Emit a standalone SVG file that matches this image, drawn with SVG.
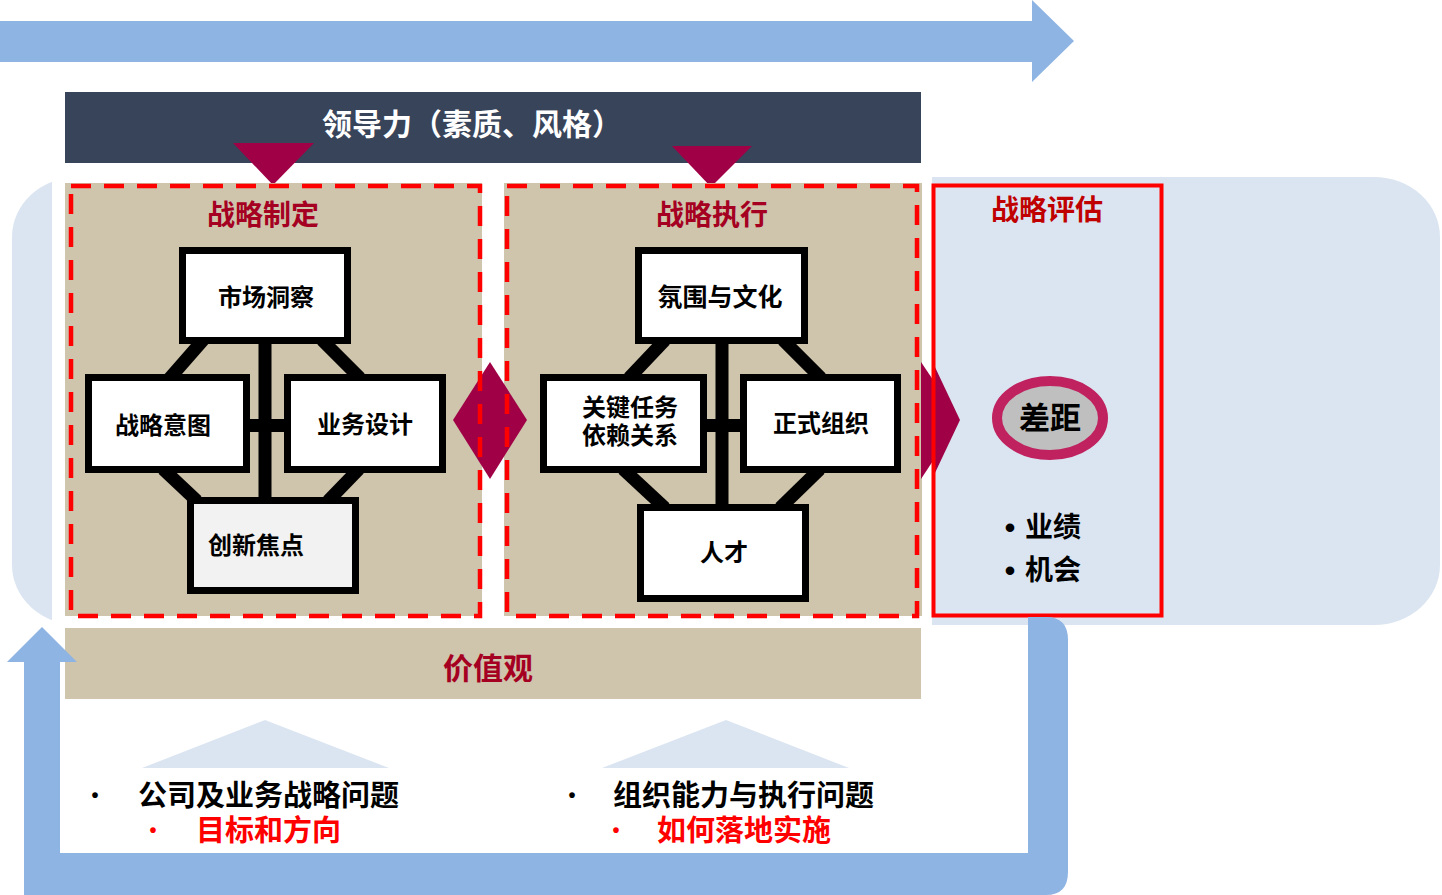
<svg xmlns="http://www.w3.org/2000/svg" width="1442" height="895" viewBox="0 0 1442 895">
<style>
.t{font-family:"Noto Sans CJK SC","Liberation Sans",sans-serif;font-weight:bold;dominant-baseline:central;text-anchor:middle}
.s{text-anchor:start}
.b{font-family:"Liberation Sans",sans-serif;font-weight:bold;dominant-baseline:central;text-anchor:middle}
.box{fill:#FFFFFF;stroke:#000000;stroke-width:7}
.con{stroke:#000000;stroke-width:13;fill:none}
.dash{fill:none;stroke:#FF0000;stroke-width:4.5;stroke-dasharray:20 13}
.beige{fill:#CFC4AC}
.lb{fill:#DBE5F1}
.blue{fill:#8EB4E3}
.mag{fill:#A00046}
</style>
<rect width="1442" height="895" fill="#FFFFFF"/>
<!-- background regions -->
<rect class="lb" x="12" y="177" width="1428" height="448" rx="66" ry="60"/>
<rect x="52" y="160" width="880" height="468" fill="#FFFFFF"/>
<!-- top arrow -->
<polygon class="blue" points="0,21 1032,21 1032,0 1074,41 1032,82 1032,62 0,62"/>
<!-- header -->
<g id="header">
<rect x="65" y="92" width="856" height="71" fill="#38445A"/>
<text class="t" x="472" y="122" font-size="30" fill="#FFFFFF">领导力（素质、风格）</text>
</g>
<polygon class="mag" points="233,143 314,143 273,185"/>
<polygon class="mag" points="672,146 752,146 711,187"/>
<!-- panels -->
<rect class="beige" x="65" y="183" width="417" height="433"/>
<rect class="beige" x="504" y="183" width="418" height="433"/>
<polygon class="mag" points="453,420 490,362 527,420 490,479"/>
<polygon class="mag" points="921,362 960,420 921,479"/>
<g id="panel-strategy-eval">
<rect class="lb" x="934" y="186" width="227" height="429"/>
<polygon class="mag" points="934,365 960,420 934,475"/>
<rect x="933.5" y="185.5" width="228" height="430" fill="none" stroke="#FF0000" stroke-width="4"/>
</g>
<rect class="dash" x="71" y="186" width="409" height="430"/>
<rect class="dash" x="507" y="186" width="410" height="430"/>
<g id="panel-titles">
<text class="t" x="263" y="213" font-size="28" fill="#A50021">战略制定</text>
<text class="t" x="712" y="213" font-size="28" fill="#A50021">战略执行</text>
<text class="t" x="1047" y="208" font-size="28" fill="#C00000">战略评估</text>
</g>
<!-- connectors -->
<g id="connectors">
<line class="con" x1="265" y1="340" x2="265" y2="500" stroke-width="14"/>
<line class="con" x1="245" y1="425.5" x2="289" y2="425.5" stroke-width="15"/>
<line class="con" x1="204" y1="339" x2="169" y2="379"/>
<line class="con" x1="322" y1="340" x2="360" y2="378"/>
<line class="con" x1="163" y1="469" x2="197" y2="501"/>
<line class="con" x1="359" y1="469" x2="328" y2="501"/>
<line class="con" x1="722" y1="340" x2="722" y2="508" stroke-width="14"/>
<line class="con" x1="703" y1="425.5" x2="744" y2="425.5" stroke-width="15"/>
<line class="con" x1="665" y1="340" x2="629" y2="378"/>
<line class="con" x1="783" y1="340" x2="821" y2="378"/>
<line class="con" x1="623" y1="469" x2="665" y2="508"/>
<line class="con" x1="820" y1="469" x2="780" y2="508"/>
</g>
<!-- nodes -->
<g id="node-market">
<rect class="box" x="182.5" y="250.5" width="165" height="90"/>
<text class="t" x="266" y="295" font-size="24">市场洞察</text>
</g>
<g id="node-intent">
<rect class="box" x="88.5" y="377.5" width="158" height="92"/>
<text class="t" x="163" y="423" font-size="24">战略意图</text>
</g>
<g id="node-business">
<rect class="box" x="287.5" y="377.5" width="155" height="92"/>
<text class="t" x="365" y="422" font-size="24">业务设计</text>
</g>
<g id="node-innovation">
<rect class="box" x="190.5" y="500.5" width="165" height="90" style="fill:#F2F2F2"/>
<text class="t" x="256" y="543" font-size="24">创新焦点</text>
</g>
<g id="node-culture">
<rect class="box" x="638.5" y="250.5" width="166" height="90"/>
<text class="t" x="720" y="295" font-size="25">氛围与文化</text>
</g>
<g id="node-tasks">
<rect class="box" x="543.5" y="377.5" width="160" height="92"/>
<text class="t" font-size="24"><tspan x="630" y="405">关键任务</tspan><tspan x="630" y="433">依赖关系</tspan></text>
</g>
<g id="node-org">
<rect class="box" x="743.5" y="377.5" width="154" height="92"/>
<text class="t" x="821" y="421" font-size="24">正式组织</text>
</g>
<g id="node-talent">
<rect class="box" x="640.5" y="507.5" width="165" height="91"/>
<text class="t" x="724" y="550" font-size="24">人才</text>
</g>
<g id="node-gap">
<ellipse cx="1050" cy="418" rx="53" ry="37" fill="#BFBFBF" stroke="#C0215F" stroke-width="10"/>
<text class="t" x="1050" y="415" font-size="31">差距</text>
</g>
<g id="eval-bullets">
<text class="b" x="1010" y="527" font-size="30">•</text>
<text class="t s" x="1025" y="525" font-size="28">业绩</text>
<text class="b" x="1010" y="570" font-size="30">•</text>
<text class="t s" x="1025" y="568" font-size="28">机会</text>
</g>
<!-- values band -->
<g id="values">
<rect class="beige" x="65" y="628" width="856" height="71"/>
<text class="t" x="488" y="666" font-size="30" fill="#A50021">价值观</text>
</g>
<!-- loop arrow -->
<path class="blue" d="M24,662 L7,662 L42,627 L77,662 L60,662 L60,853 L1028,853 L1028,617 L1046,617 Q1068,617 1068,640 L1068,872 Q1068,895 1046,895 L24,895 Z"/>
<!-- light triangles -->
<polygon class="lb" points="142,768 265,720 389,768"/>
<polygon class="lb" points="602,768 726,720 849,768"/>
<g id="issues-left">
<text class="b" x="95" y="795" font-size="20">•</text>
<text class="t s" x="138" y="793" font-size="29">公司及业务战略问题</text>
<text class="b" x="153" y="830" font-size="20" fill="#FF0000">•</text>
<text class="t s" x="196" y="828" font-size="29" fill="#FF0000">目标和方向</text>
</g>
<g id="issues-right">
<text class="b" x="572" y="795" font-size="20">•</text>
<text class="t s" x="613" y="793" font-size="29">组织能力与执行问题</text>
<text class="b" x="616" y="830" font-size="20" fill="#FF0000">•</text>
<text class="t s" x="657" y="828" font-size="29" fill="#FF0000">如何落地实施</text>
</g>
</svg>
